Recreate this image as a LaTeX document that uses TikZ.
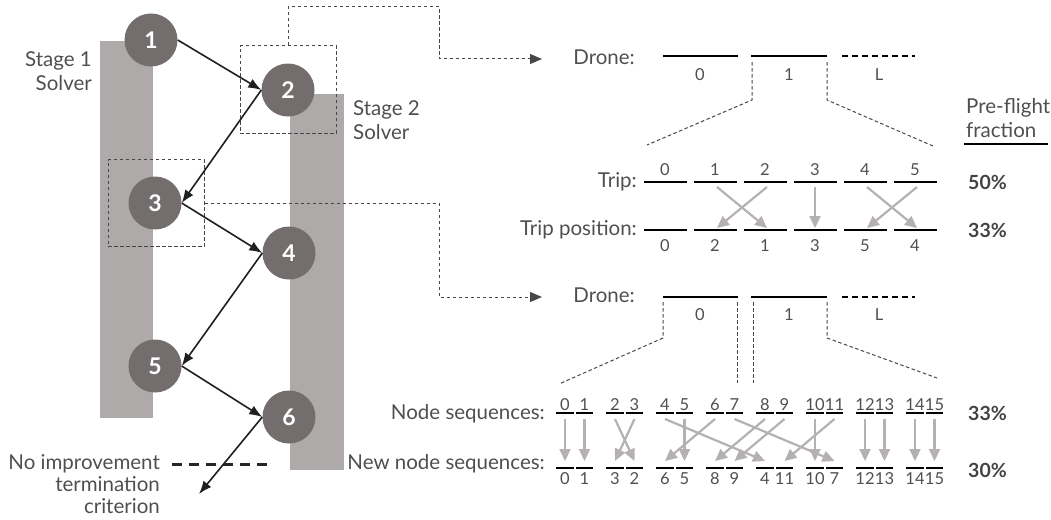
\documentclass[tikz,border=0pt]{standalone}
\usepackage{fontspec}
\setmainfont{Lato}
\usetikzlibrary{arrows.meta}
\definecolor{circ}{HTML}{736E6D}
\definecolor{barc}{HTML}{AEAAA9}
\definecolor{txt}{HTML}{4F4F4F}
\definecolor{garr}{HTML}{B4B1B0}
\definecolor{dshc}{HTML}{474747}
\begin{document}
\begin{tikzpicture}[x=1pt,y=-1pt,
  stepnode/.style={circle,fill=circ,minimum size=53pt,inner sep=0pt,text=white,font=\fontsize{23}{23}\selectfont\bfseries},
  lbl/.style={text=txt,font=\fontsize{20.5}{23.5}\selectfont,inner sep=0pt},
  num/.style={text=txt,font=\fontsize{16.5}{17}\selectfont,inner sep=0pt},
  pct/.style={text=txt!85!black,font=\fontsize{19.5}{19.5}\selectfont\bfseries,inner sep=0pt,anchor=west},
  flow/.style={line width=1.6pt,draw=black!88,-{Latex[length=13pt,width=10pt]}},
  dsh/.style={line width=1pt,draw=dshc,dash pattern=on 3.5pt off 2.5pt},
  dbox/.style={dsh,minimum width=96pt,minimum height=87pt,inner sep=0pt},
  seg/.style={line width=2.2pt,draw=black},
  garrow/.style={line width=2.2pt,draw=garr,-{Triangle[length=12pt,width=11pt]},fill=garr},
  ptr/.style={-{Triangle[length=12pt,width=10pt]}}
]
\useasboundingbox (0,0) rectangle (1051,519);

% solver bars
\fill[barc] (100,41) rectangle (153,418);
\fill[barc] (290,94) rectangle (344,470);

% dashed boxes
\node[dbox,draw] (b2) at (288,89.5) {};
\node[dbox,draw] (b3) at (156,203) {};

% steps
\node[stepnode] (n1) at (151,40) {1};
\node[stepnode] (n2) at (288,90) {2};
\node[stepnode] (n3) at (155,203) {3};
\node[stepnode] (n4) at (289,253) {4};
\node[stepnode] (n5) at (155,366) {5};
\node[stepnode] (n6) at (289,417) {6};

\draw[flow] (n1.east) -- (n2.west);
\draw[flow] (n2.west) -- (n3.east);
\draw[flow] (n3.east) -- (n4.west);
\draw[flow] (n4.west) -- (n5.east);
\draw[flow] (n5.east) -- (n6.west);
\coordinate (endpt) at (199,494);
\draw[flow] (n6.west) -- (endpt);

% labels left
\node[lbl,align=right,anchor=east] (s1) at (92,71) {Stage 1\\Solver};
\node[lbl,align=left,anchor=west] (s2) at (353,120) {Stage 2\\Solver};
\node[lbl,align=right,anchor=east,font=\fontsize{20.5}{22}\selectfont] (noimp) at (160,484) {No improvement\\termination\\criterion};
\coordinate (termA) at (172,464);
\coordinate (termB) at (270,464);
\draw[line width=3pt,draw=black!85,dash pattern=on 10pt off 7pt] (termA) -- (termB);

% connectors to the detail rows
\coordinate (d1in) at (542,59);
\coordinate (d2in) at (542,297);
\draw[dsh,ptr] (b2.north) -- (b2.north |- 0,7) -| (439,59) -- (d1in);
\draw[dsh,ptr] (b3.east) -- (439,203) -- (439,297) -- (d2in);

% ---------- upper drone row ----------
\node[lbl,anchor=base east] (drone1) at (635,64) {Drone:};
\draw[seg] (663,56) -- (738,56);
\draw[seg] (751,56) -- (827,56);
\draw[seg,dash pattern=on 6pt off 4pt] (842,56) -- (915,56);
\node[num] (u0) at (700,75) {0};
\node[num] (u1) at (789,75) {1};
\node[num] (uL) at (879,75) {L};
\draw[dsh] (752,62) -- (752,100) -- (647,145);
\draw[dsh] (827,62) -- (827,100) -- (933,146);

% trip rows
\node[lbl,anchor=base east] (trip) at (637,187) {Trip:};
\node[lbl,anchor=base east] (trippos) at (637,235) {Trip position:};
\foreach \k/\b in {0/0,1/2,2/1,3/3,4/5,5/4}{
  \pgfmathsetmacro{\cx}{665+50*\k}
  \draw[seg] (\cx-21.5,182) -- (\cx+21.5,182);
  \draw[seg] (\cx-21.5,230) -- (\cx+21.5,230);
  \node[num] (ta\k) at (\cx,170) {\k};
  \node[num] (tb\k) at (\cx,246) {\b};
  \coordinate (ts\k) at (\cx,187);
  \coordinate (tp\k) at (\cx,228);
}
\draw[garrow] ([xshift=2pt]ts1) -- ([xshift=2pt]tp2);
\draw[garrow] ([xshift=2pt]ts2) -- ([xshift=2pt]tp1);
\draw[garrow] (ts3) -- (tp3);
\draw[garrow] ([xshift=2pt]ts4) -- ([xshift=2pt]tp5);
\draw[garrow] ([xshift=2pt]ts5) -- ([xshift=2pt]tp4);

% pre-flight fraction
\node[lbl,align=left,anchor=west] (pf) at (966,118) {Pre-flight\\fraction};
\draw[line width=1.1pt] (964,144) -- (1048,144);
\node[pct] (p1) at (968,182) {50\%};
\node[pct] (p2) at (968,230) {33\%};
\node[pct] (p3) at (968,413) {33\%};
\node[pct] (p4) at (968,470) {30\%};

% ---------- lower drone row ----------
\node[lbl,anchor=base east] (drone2) at (635,302) {Drone:};
\draw[seg] (663,297) -- (738,297);
\draw[seg] (751,297) -- (827,297);
\draw[seg,dash pattern=on 6pt off 4pt] (842,297) -- (915,297);
\node[num] (w0) at (700,315) {0};
\node[num] (w1) at (789,315) {1};
\node[num] (wL) at (879,315) {L};
\draw[dsh] (663,302) -- (663,338) -- (559,384);
\draw[dsh] (737,302) -- (737,383);
\draw[dsh] (753,302) -- (753,383);
\draw[dsh] (827,302) -- (827,338) -- (937,378);

% node sequences
\node[lbl,anchor=base east] (nseq) at (545,419) {Node sequences:};
\node[lbl,anchor=base east] (nnseq) at (545,469) {New node sequences:};
\foreach \j/\b in {0/0,1/1,2/3,3/2,4/6,5/5,6/8,7/9,8/4,9/11,10/10,11/7,12/12,13/13,14/14,15/15}{
  \pgfmathsetmacro{\cx}{565+50*floor(\j/2)+19.5*mod(\j,2)}
  \draw[seg] (\cx-8.75,413) -- (\cx+8.75,413);
  \draw[seg] (\cx-8.75,468) -- (\cx+8.75,468);
  \node[num] (sa\j) at (\cx,405) {\j};
  \node[num] (sb\j) at (\cx,479) {\b};
  \coordinate (ns\j) at (\cx,419);
  \coordinate (nn\j) at (\cx,461);
}
\foreach \i/\t in {0/0,1/1,2/3,3/2,4/8,5/5,6/4,7/11,8/6,9/7,10/10,11/9,12/12,13/13,14/14,15/15}{
  \draw[garrow] (ns\i) -- (nn\t);
}
\end{tikzpicture}
\end{document}
